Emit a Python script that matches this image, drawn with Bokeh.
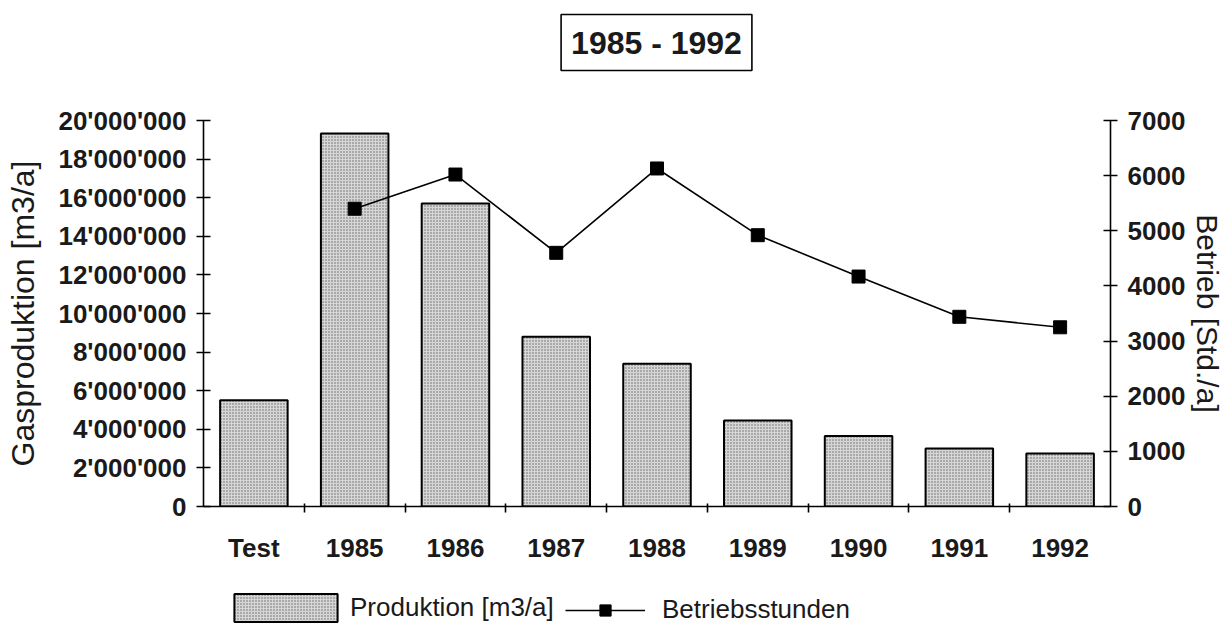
from bokeh.plotting import figure
from bokeh.layouts import column
from bokeh.models import (Range1d, LinearAxis, FixedTicker, Label,
                          CustomJSTickFormatter, Legend, LegendItem, ColumnDataSource)
from bokeh.embed import file_html
from bokeh.resources import INLINE

categories = ["Test", "1985", "1986", "1987", "1988", "1989", "1990", "1991", "1992"]
produktion = [5_500_000, 19_320_000, 15_700_000, 8_800_000, 7_400_000,
              4_450_000, 3_650_000, 3_000_000, 2_750_000]
stunden_years = ["1985", "1986", "1987", "1988", "1989", "1990", "1991", "1992"]
stunden = [5400, 6020, 4600, 6130, 4920, 4170, 3440, 3250]
left_ticks = [0, 2_000_000, 4_000_000, 6_000_000, 8_000_000, 10_000_000,
              12_000_000, 14_000_000, 16_000_000, 18_000_000, 20_000_000]
right_ticks = [0, 1000, 2000, 3000, 4000, 5000, 6000, 7000]
title_text = "1985 - 1992"
legend_labels = ["Produktion [m3/a]", "Betriebsstunden"]

FONT = "Liberation Sans"
INK = "#1a1a1a"
W = 1230

BAR_STYLE = dict(fill_color="#d6d6d6", line_color="black", line_width=2,
                 hatch_pattern="dot", hatch_color="#666666", hatch_scale=3, hatch_weight=1)
LINE_STYLE = dict(line_color="black", line_width=1.6)
MARK_STYLE = dict(marker="square", size=13, fill_color="black", line_color="black")

cat_pos = {c: i + 0.5 for i, c in enumerate(categories)}
src = ColumnDataSource(dict(x=[cat_pos[c] for c in categories], val=produktion))
lsrc = ColumnDataSource(dict(x=[cat_pos[c] for c in stunden_years], val=stunden))

def blank_figure(height, xr=(0, 1)):
    f = figure(width=W, height=height, output_backend="svg", toolbar_location=None,
               x_range=Range1d(*xr), y_range=Range1d(0, 1),
               x_axis_location=None, y_axis_location=None,
               min_border_left=0, min_border_right=0, min_border_top=0, min_border_bottom=0)
    f.title = None
    f.outline_line_color = None
    f.xgrid.visible = False
    f.ygrid.visible = False
    f.background_fill_color = "white"
    f.border_fill_color = "white"
    return f

# ---------- title strip ----------
tf = blank_figure(90)
tf.add_layout(Label(x=453, y=48, x_units="screen", y_units="screen", text=title_text,
                    text_font=FONT, text_font_style="bold", text_font_size="32px",
                    text_align="center", text_baseline="middle", text_color=INK,
                    border_line_color="black", border_line_width=1.6,
                    background_fill_color="white", padding=10))

# ---------- main chart ----------
p = figure(width=W, height=475, output_backend="svg", toolbar_location=None,
           x_range=Range1d(0, len(categories)),
           y_range=Range1d(0, 20_000_000),
           x_axis_location=None, y_axis_location="left",
           min_border_left=203, min_border_right=120, min_border_top=30, min_border_bottom=59)
p.title = None
p.extra_y_ranges = {"h": Range1d(0, 7000)}
p.outline_line_color = None
p.xgrid.visible = False
p.ygrid.visible = False
p.background_fill_color = "white"
p.border_fill_color = "white"

p.vbar(x="x", top="val", width=0.67, source=src, **BAR_STYLE)
p.line(x="x", y="val", source=lsrc, y_range_name="h", **LINE_STYLE)
p.scatter(x="x", y="val", source=lsrc, y_range_name="h", **MARK_STYLE)

def style_y(ax, label_size, label_standoff):
    ax.axis_line_color = "black"
    ax.axis_line_width = 1.6
    ax.major_tick_line_color = "black"
    ax.major_tick_line_width = 1.6
    ax.major_tick_in = 7
    ax.major_tick_out = 7
    ax.minor_tick_line_color = None
    ax.major_label_text_font = FONT
    ax.major_label_text_font_style = "bold"
    ax.major_label_text_font_size = "26px"
    ax.major_label_text_color = INK
    ax.major_label_standoff = 10
    ax.axis_label_text_font = FONT
    ax.axis_label_text_font_style = "normal"
    ax.axis_label_text_font_size = label_size
    ax.axis_label_text_color = INK
    ax.axis_label_standoff = label_standoff

ya = p.yaxis[0]
ya.ticker = FixedTicker(ticks=left_ticks)
ya.formatter = CustomJSTickFormatter(code="return Math.round(tick).toString().replace(/\\B(?=(\\d{3})+(?!\\d))/g, \"'\");")
ya.axis_label = "Gasproduktion [m3/a]"
style_y(ya, "32px", 14)

ra = LinearAxis(y_range_name="h", ticker=FixedTicker(ticks=right_ticks),
                axis_label="Betrieb [Std./a]")
style_y(ra, "30px", 3)
p.add_layout(ra, "right")

# category axis: labels at slot centres, small ticks (minor) at slot boundaries
ca = LinearAxis(ticker=FixedTicker(ticks=[cat_pos[c] for c in categories],
                                   minor_ticks=list(range(1, len(categories)))),
                major_label_overrides={cat_pos[c]: c for c in categories})
ca.axis_line_color = "black"
ca.axis_line_width = 1.6
ca.major_tick_line_color = None
ca.major_tick_in = 0
ca.major_tick_out = 0
ca.minor_tick_line_color = "black"
ca.minor_tick_line_width = 1.6
ca.minor_tick_in = 3
ca.minor_tick_out = 6
ca.major_label_text_font = FONT
ca.major_label_text_font_style = "bold"
ca.major_label_text_font_size = "26px"
ca.major_label_text_color = INK
ca.major_label_standoff = 20
p.add_layout(ca, "below")

# ---------- legend strip (hidden proxy renderers share the data) ----------
lf = blank_figure(60, xr=(-3, -2))
r_bar = lf.vbar(x="x", top="val", width=0.67, source=src, visible=False, **BAR_STYLE)
r_line = lf.line(x="x", y="val", source=lsrc, visible=False, **LINE_STYLE)
r_mark = lf.scatter(x="x", y="val", source=lsrc, visible=False, **MARK_STYLE)

common = dict(orientation="horizontal", label_text_font=FONT, label_text_font_size="26px",
              label_text_color=INK, padding=0, margin=0, border_line_color=None,
              background_fill_alpha=0, inactive_fill_alpha=0)
leg1 = Legend(items=[LegendItem(label=legend_labels[0], renderers=[r_bar])],
              location=(18, 0), glyph_width=129, glyph_height=35, label_standoff=0, **common)
leg2 = Legend(items=[LegendItem(label=legend_labels[1], renderers=[r_line, r_mark])],
              location=(362, 0), glyph_width=80, glyph_height=28, label_standoff=17, **common)
lf.add_layout(leg1)
lf.add_layout(leg2)

layout = column(tf, p, lf, spacing=0)
open("out.html", "w").write(file_html(layout, INLINE))
